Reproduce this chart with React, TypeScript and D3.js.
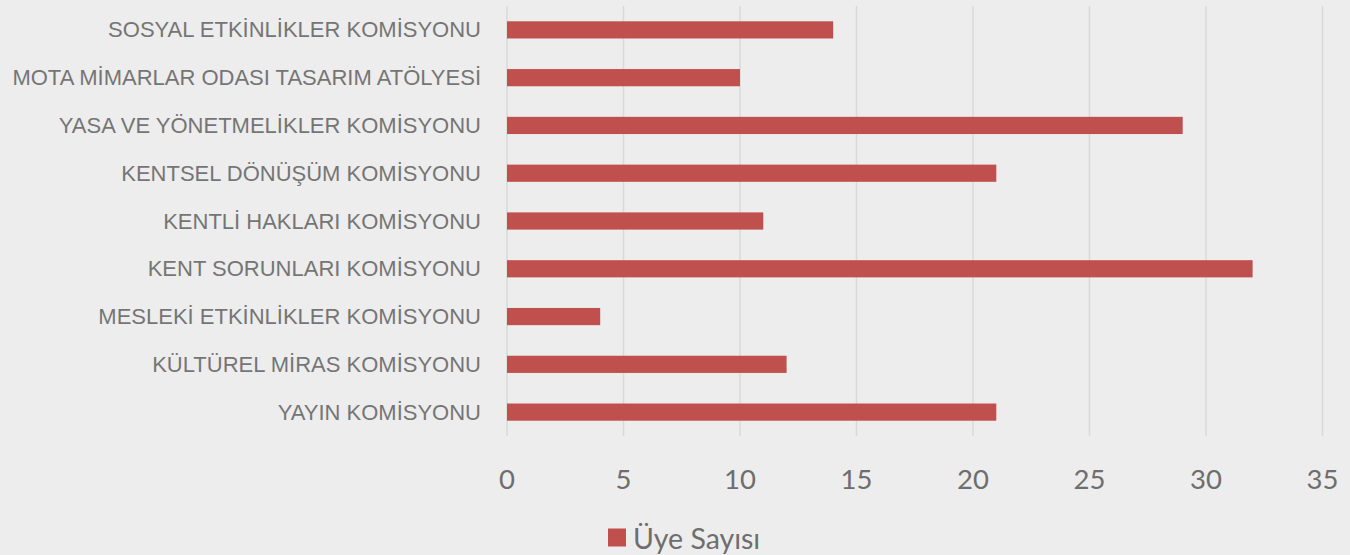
import React from "react";
import * as d3 from "d3";

const categories = [
  "SOSYAL ETKİNLİKLER KOMİSYONU",
  "MOTA MİMARLAR ODASI TASARIM ATÖLYESİ",
  "YASA VE YÖNETMELİKLER KOMİSYONU",
  "KENTSEL DÖNÜŞÜM KOMİSYONU",
  "KENTLİ HAKLARI KOMİSYONU",
  "KENT SORUNLARI KOMİSYONU",
  "MESLEKİ ETKİNLİKLER KOMİSYONU",
  "KÜLTÜREL MİRAS KOMİSYONU",
  "YAYIN KOMİSYONU",
];
const values = [14, 10, 29, 21, 11, 32, 4, 12, 21];
const xTicks = [0, 5, 10, 15, 20, 25, 30, 35];
const seriesName = "Üye Sayısı";

const W = 1350;
const H = 555;
const left = 507;
const right = 1322.5;
const top = 6;
const bottom = 436;
const barColor = "#c0504d";

export default function App() {
  const x = d3.scaleLinear().domain([0, 35]).range([left, right]);
  const y = d3.scaleBand<string>().domain(categories).range([top, bottom]).paddingInner(0.64).paddingOuter(0.32);
  return (
    <svg width={W} height={H} style={{ position: "absolute", left: 0, top: 0, display: "block" }}>
      <rect x={0} y={0} width={W} height={H} fill="#ededed" />
      {xTicks.map((t) => (
        <line key={t} x1={x(t)} x2={x(t)} y1={top} y2={bottom} stroke="#d9d9d9" strokeWidth={1.5} />
      ))}
      {categories.map((c, i) => (
        <rect key={c} x={x(0)} y={y(c)!} width={x(values[i]) - x(0)} height={y.bandwidth()} fill={barColor} />
      ))}
      {categories.map((c) => (
        <text
          key={c}
          x={481}
          y={y(c)! + y.bandwidth() / 2}
          textAnchor="end"
          dominantBaseline="central"
          fontFamily="'Liberation Sans', Arial, sans-serif"
          fontSize={22}
          fill="#757575"
        >
          {c}
        </text>
      ))}
      {xTicks.map((t) => (
        <text
          key={t}
          x={x(t)}
          y={478.5}
          textAnchor="middle"
          dominantBaseline="central"
          fontFamily="Lato, 'Open Sans', sans-serif"
          fontSize={27.5}
          fill="#6e6e6e"
        >
          {t}
        </text>
      ))}
      <rect x={608} y={528.5} width={18} height={18} fill={barColor} />
      <text x={633} y={549} fontFamily="Lato, 'Open Sans', sans-serif" fontSize={28.5} fill="#6e6e6e">
        {seriesName}
      </text>
    </svg>
  );
}
